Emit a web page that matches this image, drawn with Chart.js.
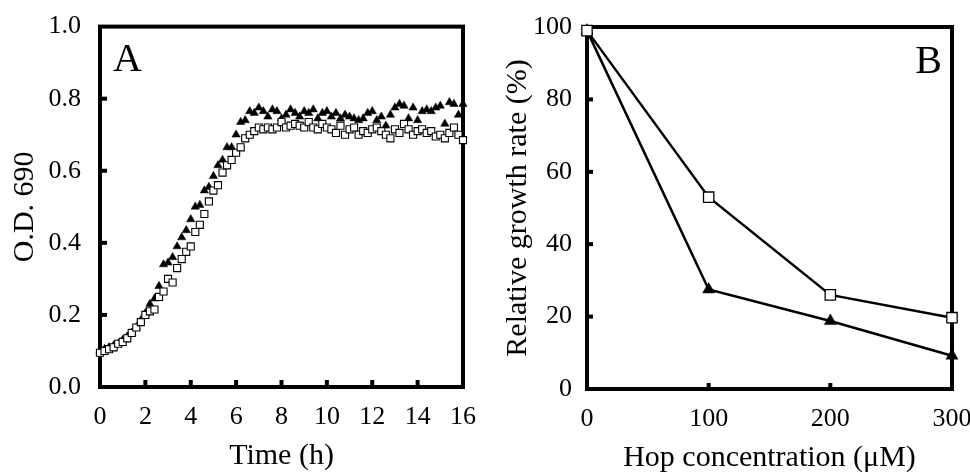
<!DOCTYPE html>
<html lang="en">
<head>
    <meta charset="UTF-8">
    <title>Growth curves and hop sensitivity</title>
    <script src="https://cdn.jsdelivr.net/npm/chart.js"></script>
    <style>
        html, body { margin: 0; padding: 0; background: #fff; overflow: hidden; }
        .panel { position: absolute; top: 0; }
        #panelA { left: 0; width: 485px; height: 472px; }
        #panelB { left: 485px; width: 510px; height: 472px; }
    </style>
</head>
<body>
    <div class="panel" id="panelA"><canvas id="chartA"></canvas></div>
    <div class="panel" id="panelB"><canvas id="chartB"></canvas></div>

    <script>
        // Panel A: O.D. 690 vs time (h), readings every 0.2 h
        const timeHours = [
            0, 0.2, 0.4, 0.6, 0.8, 1, 1.2, 1.4, 1.6, 1.8,
            2, 2.2, 2.4, 2.6, 2.8, 3, 3.2, 3.4, 3.6, 3.8,
            4, 4.2, 4.4, 4.6, 4.8, 5, 5.2, 5.4, 5.6, 5.8,
            6, 6.2, 6.4, 6.6, 6.8, 7, 7.2, 7.4, 7.6, 7.8,
            8, 8.2, 8.4, 8.6, 8.8, 9, 9.2, 9.4, 9.6, 9.8,
            10, 10.2, 10.4, 10.6, 10.8, 11, 11.2, 11.4, 11.6, 11.8,
            12, 12.2, 12.4, 12.6, 12.8, 13, 13.2, 13.4, 13.6, 13.8,
            14, 14.2, 14.4, 14.6, 14.8, 15, 15.2, 15.4, 15.6, 15.8,
            16
        ];
        const odSquares = [
            0.095, 0.10, 0.105, 0.11, 0.12, 0.125, 0.135, 0.15, 0.165, 0.18,
            0.20, 0.21, 0.215, 0.25, 0.265, 0.30, 0.29, 0.33, 0.355, 0.375,
            0.39, 0.43, 0.45, 0.48, 0.515, 0.545, 0.56, 0.595, 0.615, 0.63,
            0.65, 0.665, 0.69, 0.70, 0.71, 0.72, 0.715, 0.72, 0.715, 0.72,
            0.735, 0.72, 0.725, 0.73, 0.725, 0.72, 0.735, 0.72, 0.715, 0.73,
            0.72, 0.715, 0.705, 0.725, 0.70, 0.715, 0.72, 0.70, 0.71, 0.705,
            0.715, 0.72, 0.71, 0.70, 0.69, 0.715, 0.705, 0.73, 0.715, 0.70,
            0.71, 0.715, 0.705, 0.71, 0.695, 0.70, 0.69, 0.705, 0.72, 0.70,
            0.685
        ];
        const odTriangles = [
            0.10, 0.105, 0.11, 0.115, 0.12, 0.13, 0.14, 0.15, 0.165, 0.185,
            0.205, 0.23, 0.245, 0.28, 0.34, 0.345, 0.36, 0.39, 0.415, 0.435,
            0.465, 0.50, 0.505, 0.545, 0.555, 0.585, 0.615, 0.63, 0.665, 0.665,
            0.70, 0.735, 0.74, 0.765, 0.76, 0.775, 0.765, 0.75, 0.77, 0.765,
            0.745, 0.755, 0.77, 0.76, 0.75, 0.765, 0.76, 0.77, 0.745, 0.76,
            0.765, 0.75, 0.76, 0.745, 0.755, 0.75, 0.745, 0.74, 0.745, 0.76,
            0.765, 0.74, 0.75, 0.725, 0.755, 0.775, 0.785, 0.78, 0.745, 0.775,
            0.74, 0.765, 0.77, 0.765, 0.775, 0.78, 0.73, 0.79, 0.785, 0.755,
            0.785
        ];

        // Panel B: relative growth rate (%) vs hop concentration (uM)
        const hopConc = [0, 100, 200, 300];
        const rateSquares = [99, 53, 26, 19.7];
        const rateTriangles = [99, 27.5, 18.8, 9.2];

        const serif = "'Liberation Serif', 'Times New Roman', serif";

        function points(xs, ys) {
            return xs.map((x, i) => ({ x: x, y: ys[i] }));
        }

        // thick frame + inward tick marks, drawn under the markers
        const framePlugin = {
            id: 'frame',
            beforeDatasetsDraw(chart, args, opts) {
                const { ctx, chartArea: a, scales } = chart;
                ctx.save();
                ctx.strokeStyle = '#000';
                ctx.lineWidth = 4;
                ctx.strokeRect(a.left, a.top, a.right - a.left, a.bottom - a.top);
                scales.x.ticks.forEach(t => {
                    const px = scales.x.getPixelForValue(t.value);
                    if (px <= a.left + 2 || px >= a.right - 2) return;
                    ctx.beginPath();
                    ctx.moveTo(px, a.bottom);
                    ctx.lineTo(px, a.bottom - opts.len);
                    ctx.stroke();
                });
                scales.y.ticks.forEach(t => {
                    const py = scales.y.getPixelForValue(t.value);
                    if (py <= a.top + 2 || py >= a.bottom - 2) return;
                    ctx.beginPath();
                    ctx.moveTo(a.left, py);
                    ctx.lineTo(a.left + opts.len, py);
                    ctx.stroke();
                });
                ctx.restore();
            }
        };

        // panel letter in the corner
        const letterPlugin = {
            id: 'letter',
            afterDraw(chart, args, opts) {
                const { ctx, chartArea: a } = chart;
                ctx.save();
                ctx.font = '40px ' + serif;
                ctx.fillStyle = '#000';
                ctx.textBaseline = 'alphabetic';
                if (opts.side === 'left') {
                    ctx.textAlign = 'left';
                    ctx.fillText(opts.text, a.left + 13, a.top + 44);
                } else {
                    ctx.textAlign = 'right';
                    ctx.fillText(opts.text, a.right - 10, a.top + 46);
                }
                ctx.restore();
            }
        };

        const tickFont = { family: serif, size: 26 };
        const titleFont = { family: serif, size: 30 };

        // ---- Chart A ----
        new Chart(document.getElementById('chartA'), {
            type: 'scatter',
            data: {
                datasets: [
                    {
                        label: 'open squares',
                        data: points(timeHours, odSquares),
                        pointStyle: 'rect',
                        pointRadius: 5,
                        pointBorderWidth: 1.1,
                        pointBorderColor: '#000',
                        pointBackgroundColor: '#fff',
                        clip: false
                    },
                    {
                        label: 'filled triangles',
                        data: points(timeHours, odTriangles),
                        pointStyle: 'triangle',
                        pointRadius: 4.8,
                        pointBorderWidth: 0.5,
                        pointBorderColor: '#000',
                        pointBackgroundColor: '#000',
                        clip: false
                    }
                ]
            },
            options: {
                responsive: true,
                maintainAspectRatio: false,
                animation: false,
                events: [],
                layout: { padding: { left: 0, right: 22, top: 24, bottom: 0 } },
                plugins: {
                    legend: { display: false },
                    tooltip: { enabled: false },
                    frame: { len: 7 },
                    letter: { text: 'A', side: 'left' }
                },
                scales: {
                    x: {
                        type: 'linear', min: 0, max: 16,
                        grid: { display: false },
                        border: { display: false },
                        ticks: { stepSize: 2, color: '#000', font: tickFont, padding: 7, maxRotation: 0 },
                        title: { display: true, text: 'Time (h)', color: '#000', font: titleFont, padding: { top: 0, bottom: -2 } },
                        afterFit: s => { s.height = 85; }
                    },
                    y: {
                        type: 'linear', min: 0, max: 1,
                        grid: { display: false },
                        border: { display: false },
                        ticks: { stepSize: 0.2, color: '#000', font: tickFont, padding: 11, callback: v => v.toFixed(1) },
                        title: { display: true, text: 'O.D. 690', color: '#000', font: titleFont, padding: { top: 7, bottom: 0 } },
                        afterFit: s => { s.width = 100; }
                    }
                }
            },
            plugins: [framePlugin, letterPlugin]
        });

        // ---- Chart B ----
        new Chart(document.getElementById('chartB'), {
            type: 'line',
            data: {
                datasets: [
                    {
                        label: 'open squares',
                        data: points(hopConc, rateSquares),
                        borderColor: '#000',
                        borderWidth: 2.5,
                        pointStyle: 'rect',
                        pointRadius: 7.3,
                        pointBorderWidth: 1.3,
                        pointBorderColor: '#000',
                        pointBackgroundColor: '#fff',
                        tension: 0,
                        clip: false
                    },
                    {
                        label: 'filled triangles',
                        data: points(hopConc, rateTriangles),
                        borderColor: '#000',
                        borderWidth: 2.5,
                        pointStyle: 'triangle',
                        pointRadius: 7,
                        pointBorderWidth: 0.5,
                        pointBorderColor: '#000',
                        pointBackgroundColor: '#000',
                        tension: 0,
                        clip: false
                    }
                ]
            },
            options: {
                responsive: true,
                maintainAspectRatio: false,
                animation: false,
                events: [],
                layout: { padding: { left: 0, right: 43, top: 27, bottom: 0 } },
                plugins: {
                    legend: { display: false },
                    tooltip: { enabled: false },
                    frame: { len: 6 },
                    letter: { text: 'B', side: 'right' }
                },
                scales: {
                    x: {
                        type: 'linear', min: 0, max: 300,
                        grid: { display: false },
                        border: { display: false },
                        ticks: { stepSize: 100, color: '#000', font: tickFont, padding: 7, maxRotation: 0 },
                        title: { display: true, text: 'Hop concentration (μM)', color: '#000', font: titleFont, padding: { top: 0, bottom: -4 } },
                        afterFit: s => { s.height = 83; }
                    },
                    y: {
                        type: 'linear', min: 0, max: 100,
                        grid: { display: false },
                        border: { display: false },
                        ticks: { stepSize: 20, color: '#000', font: tickFont, padding: 7 },
                        title: { display: true, text: 'Relative growth rate (%)', color: '#000', font: titleFont, padding: { top: 15, bottom: 0 } },
                        afterFit: s => { s.width = 102; }
                    }
                }
            },
            plugins: [framePlugin, letterPlugin]
        });
    </script>
</body>
</html>
